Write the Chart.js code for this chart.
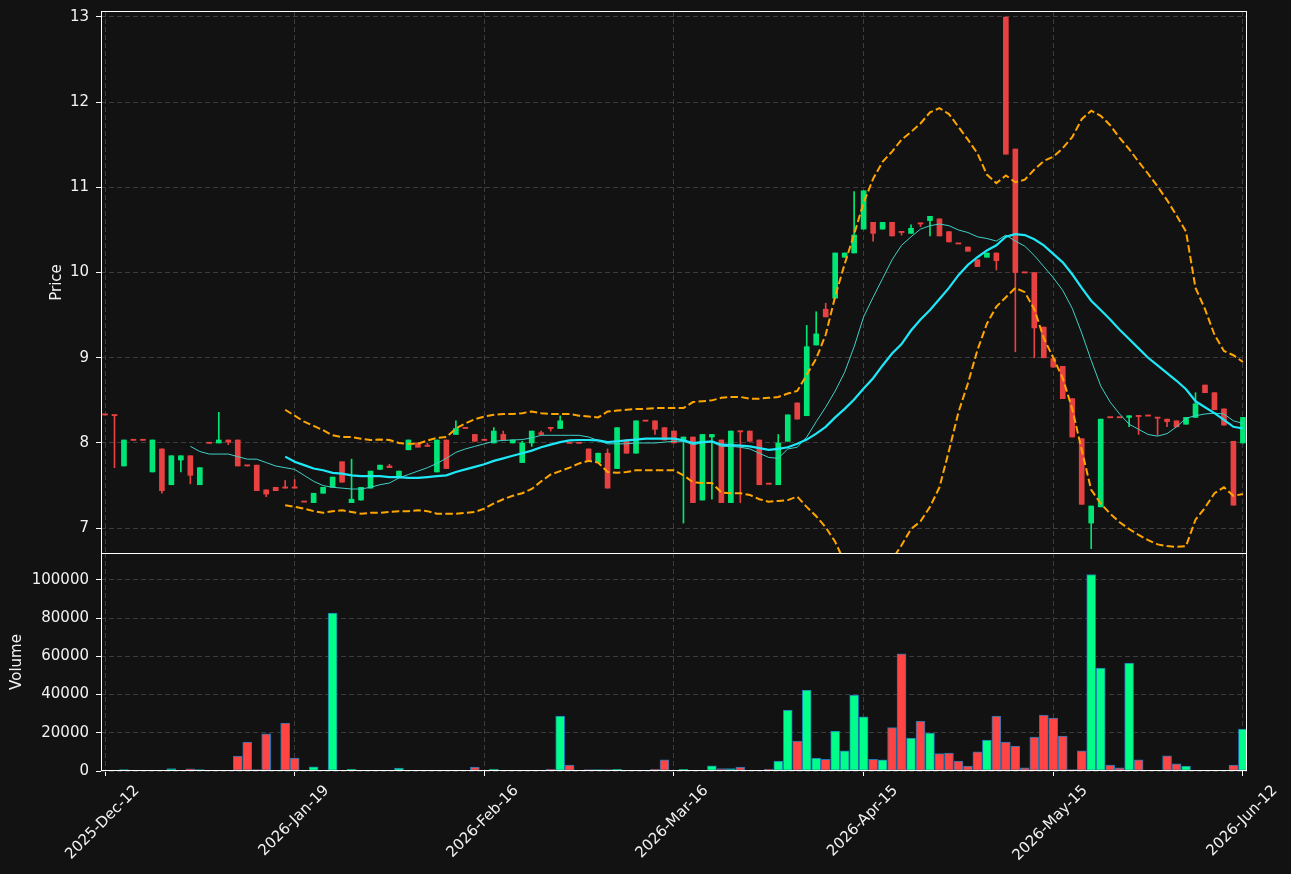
<!DOCTYPE html>
<html><head><meta charset="utf-8">
<script src="https://cdn.jsdelivr.net/npm/chart.js@4.4.1/dist/chart.umd.min.js"></script>
<style>
html,body{margin:0;padding:0;background:#121212;}
#wrap{position:relative;width:1291px;height:874px;background:#121212;overflow:hidden;}
canvas{position:absolute;left:0;display:block;}
</style></head><body>
<div id="wrap">
<canvas id="pc" width="1291" height="554" style="top:0"></canvas>
<canvas id="vc" width="1291" height="321" style="top:553px"></canvas>
</div>
<script>
const tickIndex = [0, 20, 40, 60, 80, 100, 120];
const tickLabels = ['2025-Dec-12','2026-Jan-19','2026-Feb-16','2026-Mar-16','2026-Apr-15','2026-May-15','2026-Jun-12'];
const priceTicks = [7, 8, 9, 10, 11, 12, 13];
const volumeTicks = [0, 20000, 40000, 60000, 80000, 100000];

const opens = [8.33,8.33,7.73,8.035,8.035,7.66,7.93,7.51,7.80,7.85,7.51,8.0,8.0,8.035,8.035,7.735,7.74,7.45,7.48,7.475,
7.475,7.31,7.30,7.41,7.48,7.78,7.30,7.33,7.47,7.69,7.73,7.59,7.92,8.0,7.97,7.66,8.035,8.10,8.18,8.10,
8.04,8.0,8.10,8.0,7.77,8.0,8.12,8.18,8.17,8.0,8.0,7.93,7.77,7.88,7.70,8.035,7.88,8.26,8.26,8.18,
8.14,8.035,8.07,7.33,8.07,8.035,7.30,8.14,8.14,8.035,7.52,7.51,8.02,8.47,8.32,9.15,9.57,9.70,10.18,10.23,
10.51,10.59,10.51,10.59,10.48,10.46,10.58,10.61,10.63,10.48,10.34,10.30,10.15,10.18,10.23,13.0,11.45,10.0,10.0,9.36,
8.99,8.90,8.52,8.05,7.06,7.25,8.30,8.30,8.30,8.32,8.32,8.30,8.28,8.26,8.22,8.30,8.68,8.59,8.40,8.02,8.0];
const highs = [8.33,8.33,8.035,8.035,8.035,8.035,7.93,7.85,7.85,7.85,7.71,8.0,8.36,8.035,8.035,7.735,7.74,7.45,7.48,7.56,
7.57,7.31,7.41,7.48,7.60,7.78,7.81,7.48,7.67,7.74,7.75,7.67,8.035,8.0,8.0,8.035,8.035,8.26,8.18,8.10,
8.04,8.18,8.14,8.035,8.02,8.14,8.14,8.18,8.32,8.0,8.0,7.93,7.88,7.93,8.18,8.035,8.26,8.26,8.26,8.18,
8.14,8.07,8.07,8.10,8.10,8.035,8.14,8.14,8.14,8.035,7.52,8.10,8.33,8.47,9.38,9.54,9.64,10.23,10.23,10.95,
10.96,10.59,10.59,10.59,10.48,10.56,10.58,10.66,10.63,10.48,10.34,10.30,10.15,10.23,10.23,13.0,11.45,10.0,10.0,9.36,
8.99,8.90,8.52,8.05,7.26,8.28,8.30,8.30,8.32,8.32,8.32,8.30,8.28,8.26,8.30,8.59,8.68,8.59,8.40,8.02,8.30];
const lows = [8.33,7.71,7.73,8.035,8.035,7.66,7.41,7.51,7.66,7.52,7.51,8.0,8.0,7.98,7.73,7.73,7.44,7.37,7.44,7.47,
7.47,7.31,7.30,7.41,7.48,7.54,7.30,7.33,7.47,7.69,7.71,7.59,7.92,7.95,7.96,7.66,7.70,8.10,8.17,8.02,
8.03,8.0,8.035,8.0,7.77,7.96,8.10,8.14,8.17,8.0,8.0,7.78,7.77,7.47,7.70,7.88,7.88,8.26,8.10,8.035,
8.0,7.06,7.30,7.33,7.34,7.30,7.30,7.30,8.02,7.51,7.52,7.51,8.02,8.28,8.32,9.15,9.48,9.70,10.18,10.23,
10.51,10.37,10.51,10.43,10.44,10.46,10.54,10.43,10.43,10.36,10.34,10.25,10.07,10.18,10.03,11.39,9.07,10.0,9.0,9.0,
8.89,8.52,8.07,7.28,6.76,7.25,8.30,8.30,8.19,8.10,8.32,8.09,8.19,8.19,8.22,8.30,8.59,8.39,8.21,7.27,8.0];
const closes = [8.328,8.32,8.035,8.03,8.03,8.035,7.44,7.85,7.85,7.62,7.71,7.995,8.035,8.01,7.73,7.73,7.44,7.40,7.44,7.47,
7.47,7.305,7.41,7.48,7.60,7.54,7.34,7.48,7.67,7.74,7.71,7.67,8.035,7.95,7.96,8.035,7.70,8.17,8.17,8.02,
8.03,8.14,8.035,8.035,8.0,8.14,8.10,8.17,8.26,7.995,7.995,7.78,7.88,7.47,8.18,7.88,8.26,8.255,8.16,8.035,
8.0,8.07,7.30,8.10,8.10,7.30,8.14,8.13,8.02,7.51,7.515,8.0,8.33,8.28,9.13,9.28,9.48,10.23,10.23,10.44,
10.96,10.46,10.59,10.43,10.47,10.52,10.57,10.66,10.43,10.36,10.335,10.25,10.07,10.23,10.14,11.39,10.0,9.995,9.35,9.0,
8.89,8.52,8.07,7.28,7.26,8.28,8.295,8.295,8.32,8.31,8.315,8.29,8.25,8.19,8.30,8.46,8.59,8.39,8.21,7.27,8.30];
const volumes = [0,300,800,0,0,0,300,1300,300,1200,800,0,300,300,7800,15200,800,19500,300,25100,
6800,300,2200,0,82700,300,1000,300,0,0,300,1500,300,300,0,300,0,0,0,2100,
300,1000,300,0,0,300,300,1000,28800,3100,0,700,700,700,900,300,0,300,1000,5800,
0,900,300,0,2700,1300,1300,2000,300,300,1000,5200,31900,15700,42400,6800,6100,20900,10500,39800,
28300,6100,5800,22700,61400,17300,26200,19900,9100,9400,5200,2600,10100,16200,28800,15200,13100,1600,17800,29300,
27700,18300,700,10500,102900,53900,3100,1600,56500,5800,300,300,7900,3700,2600,300,300,300,300,3100,22000];

const ma10 = [null,null,null,null,null,null,null,null,null,7.96,7.90,7.87,7.87,7.87,7.84,7.81,7.81,7.77,7.73,7.71,
7.69,7.62,7.55,7.50,7.48,7.47,7.46,7.46,7.48,7.51,7.53,7.59,7.63,7.67,7.71,7.76,7.82,7.89,7.93,7.96,
7.99,8.02,8.03,8.035,8.04,8.06,8.09,8.09,8.09,8.09,8.09,8.07,8.03,7.99,7.99,7.99,8.0,8.0,8.0,8.01,
8.02,8.02,7.98,8.0,8.01,7.96,7.96,7.95,7.93,7.88,7.83,7.82,7.93,7.95,8.07,8.25,8.42,8.61,8.83,9.13,
9.48,9.71,9.93,10.15,10.32,10.42,10.51,10.55,10.57,10.55,10.50,10.47,10.42,10.40,10.37,10.44,10.37,10.31,10.20,10.07,
9.94,9.79,9.58,9.29,8.97,8.67,8.48,8.34,8.22,8.16,8.10,8.08,8.11,8.19,8.29,8.32,8.34,8.35,8.34,8.26,8.23];
const ma20 = [null,null,null,null,null,null,null,null,null,null,null,null,null,null,null,null,null,null,null,7.84,
7.78,7.74,7.70,7.68,7.65,7.64,7.62,7.61,7.61,7.61,7.60,7.60,7.59,7.59,7.60,7.61,7.62,7.66,7.69,7.72,
7.75,7.79,7.82,7.85,7.88,7.91,7.95,7.98,8.01,8.03,8.035,8.035,8.03,8.01,8.02,8.03,8.04,8.05,8.05,8.05,
8.05,8.03,8.0,8.01,8.02,7.98,7.975,7.97,7.96,7.94,7.92,7.93,7.95,7.99,8.04,8.11,8.19,8.30,8.40,8.51,
8.64,8.76,8.91,9.05,9.16,9.32,9.45,9.56,9.69,9.82,9.97,10.09,10.18,10.26,10.32,10.42,10.45,10.44,10.39,10.32,
10.22,10.12,9.98,9.82,9.67,9.56,9.45,9.33,9.22,9.11,9.00,8.91,8.82,8.73,8.63,8.49,8.42,8.35,8.27,8.19,8.17];
const bbUpper = [null,null,null,null,null,null,null,null,null,null,null,null,null,null,null,null,null,null,null,8.39,
8.32,8.25,8.20,8.15,8.09,8.07,8.07,8.05,8.035,8.04,8.035,8.0,7.99,7.99,8.03,8.06,8.07,8.17,8.23,8.28,
8.31,8.33,8.34,8.34,8.35,8.37,8.35,8.34,8.34,8.34,8.32,8.31,8.30,8.37,8.38,8.39,8.40,8.40,8.41,8.41,
8.41,8.41,8.48,8.49,8.50,8.53,8.54,8.54,8.52,8.52,8.53,8.54,8.58,8.61,8.80,8.99,9.27,9.72,10.10,10.45,
10.82,11.10,11.30,11.42,11.56,11.65,11.75,11.88,11.93,11.86,11.71,11.56,11.40,11.15,11.05,11.14,11.06,11.09,11.21,11.31,
11.36,11.46,11.59,11.80,11.90,11.84,11.73,11.58,11.45,11.30,11.16,11.01,10.85,10.67,10.48,9.82,9.57,9.27,9.08,9.03,8.95];
const bbLower = [null,null,null,null,null,null,null,null,null,null,null,null,null,null,null,null,null,null,null,7.27,
7.25,7.23,7.20,7.18,7.20,7.21,7.19,7.17,7.18,7.18,7.19,7.20,7.20,7.21,7.20,7.17,7.17,7.17,7.18,7.19,
7.23,7.29,7.34,7.38,7.41,7.46,7.55,7.63,7.67,7.71,7.76,7.79,7.77,7.66,7.65,7.66,7.68,7.68,7.68,7.68,
7.68,7.62,7.54,7.53,7.53,7.42,7.41,7.41,7.39,7.34,7.31,7.32,7.33,7.37,7.25,7.14,7.01,6.84,6.60,6.45,
6.39,6.38,6.47,6.63,6.80,6.99,7.08,7.25,7.48,7.91,8.36,8.70,9.09,9.40,9.60,9.71,9.82,9.77,9.57,9.23,
9.0,8.76,8.40,7.92,7.45,7.29,7.17,7.07,6.99,6.92,6.86,6.81,6.79,6.78,6.79,7.10,7.24,7.41,7.48,7.38,7.40];

const UP = '#00e676', DOWN = '#e84142';
const VUP = '#00ff88', VDOWN = '#ff4444';
const GRID = '#3c3c3c';
const TXT = '#f2f2f2';
const FONT = 'DejaVu Sans';
const XMIN = -0.422, XMAX = 120.43;

const isUp = opens.map((o, i) => closes[i] >= o);
const bodies = opens.map((o, i) => ({x: i, y: [Math.min(o, closes[i]), Math.max(o, closes[i])]}));
const wicks = opens.map((o, i) => ({x: i, y: [lows[i], highs[i]]}));
const pts = arr => arr.map((v, i) => ({x: i, y: v}));

const frame = {
  id: 'frame',
  afterDraw(chart) {
    const {ctx, chartArea: a} = chart;
    ctx.save();
    ctx.strokeStyle = '#ffffff';
    ctx.lineWidth = 1;
    ctx.strokeRect(Math.round(a.left) + 0.5, Math.round(a.top) + 0.5,
      Math.round(a.right - a.left) - 1, Math.round(a.bottom - a.top) - 1);
    ctx.restore();
  }
};

Chart.defaults.font.family = FONT;
Chart.defaults.font.size = 15;
Chart.defaults.color = TXT;

const xTicksBuild = scale => { scale.ticks = tickIndex.map(v => ({value: v})); };
const noPad = s => { s.paddingTop = 0; s.paddingBottom = 0; s.paddingLeft = 0; s.paddingRight = 0; };

new Chart(document.getElementById('pc'), {
  type: 'bar',
  data: {
    datasets: [
      {type: 'line', data: pts(ma10), borderColor: '#3fd1c8', borderWidth: 1, pointRadius: 0, order: -2, clip: 0, spanGaps: false},
      {type: 'line', data: pts(ma20), borderColor: '#1ee8f8', borderWidth: 2.2, pointRadius: 0, order: -3, clip: 0},
      {type: 'line', data: pts(bbUpper), borderColor: '#ffa500', borderWidth: 2, borderDash: [7.5, 3.3], pointRadius: 0, order: -1, clip: 0},
      {type: 'line', data: pts(bbLower), borderColor: '#ffa500', borderWidth: 2, borderDash: [7.5, 3.3], pointRadius: 0, order: -1, clip: 0},
      {data: bodies, backgroundColor: isUp.map(u => u ? UP : DOWN), barThickness: 5, minBarLength: 1.2, grouped: false, order: 0},
      {data: wicks, backgroundColor: isUp.map(u => u ? UP : DOWN), barThickness: 1, grouped: false, order: 1}
    ]
  },
  options: {
    responsive: false, animation: false, events: [],
    layout: {padding: {top: 11, right: 44, left: 0, bottom: 0}},
    plugins: {legend: {display: false}, tooltip: {enabled: false}},
    scales: {
      x: {
        type: 'linear', min: XMIN, max: XMAX, offset: false,
        afterBuildTicks: xTicksBuild,
        afterFit: s => { s.height = 0; noPad(s); },
        ticks: {display: false},
        grid: {color: GRID, drawTicks: false, lineWidth: 1, offset: false},
        border: {display: false, dash: [5, 3]}
      },
      y: {
        type: 'linear', min: 6.697, max: 13.07,
        afterBuildTicks: s => { s.ticks = priceTicks.map(v => ({value: v})); },
        afterFit: s => { s.width = 101; noPad(s); },
        ticks: {color: TXT, padding: 7, font: {size: 15}},
        grid: {color: GRID, tickColor: '#ffffff', tickLength: 5, lineWidth: 1},
        border: {display: false, dash: [5, 3]},
        title: {display: true, text: 'Price', color: TXT, font: {size: 15}, padding: {top: 48, bottom: 0}}
      }
    }
  },
  plugins: [frame]
});

new Chart(document.getElementById('vc'), {
  type: 'bar',
  data: {
    datasets: [{
      data: volumes.map((v, i) => ({x: i, y: v})),
      backgroundColor: isUp.map(u => u ? VUP : VDOWN),
      borderColor: '#1f77b4', borderWidth: 1, borderSkipped: false,
      barThickness: 9, grouped: false
    }]
  },
  options: {
    responsive: false, animation: false, events: [],
    layout: {padding: {top: 0, right: 44, left: 0, bottom: 0}},
    plugins: {legend: {display: false}, tooltip: {enabled: false}},
    scales: {
      x: {
        type: 'linear', min: XMIN, max: XMAX, offset: false,
        afterBuildTicks: xTicksBuild,
        afterFit: s => { s.height = 103; noPad(s); },
        ticks: {
          color: TXT, autoSkip: false, minRotation: 45, maxRotation: 45, padding: 6, labelOffset: 32,
          font: {size: 15},
          callback: v => { const k = tickIndex.indexOf(v); return k >= 0 ? tickLabels[k] : ''; }
        },
        grid: {color: GRID, tickColor: '#ffffff', tickLength: 5, lineWidth: 1, offset: false},
        border: {display: false, dash: [5, 3]}
      },
      y: {
        type: 'linear', min: 0, max: 114136,
        afterBuildTicks: s => { s.ticks = volumeTicks.map(v => ({value: v})); },
        afterFit: s => { s.width = 101; noPad(s); },
        ticks: {color: TXT, padding: 7, font: {size: 15}, callback: v => String(v)},
        grid: {color: GRID, tickColor: '#ffffff', tickLength: 5, lineWidth: 1},
        border: {display: false, dash: [5, 3]},
        title: {display: true, text: 'Volume', color: TXT, font: {size: 15}, padding: {top: 8, bottom: 0}}
      }
    }
  },
  plugins: [frame]
});
</script>
</body></html>
